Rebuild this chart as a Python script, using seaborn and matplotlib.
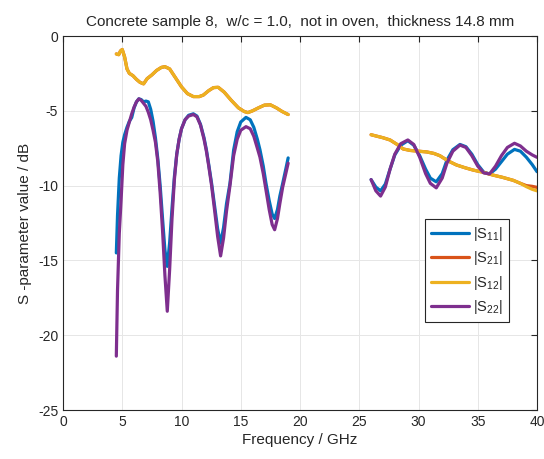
import matplotlib
matplotlib.use("Agg")
import matplotlib.pyplot as plt
import seaborn as sns
import pandas as pd

# ---------------- data ----------------
series_names = ["|S$_{11}$|", "|S$_{21}$|", "|S$_{12}$|", "|S$_{22}$|"]
colors = ["#0072BD", "#D95319", "#EDB120", "#7E2F8E"]

f_a = [4.5, 4.6, 4.75, 4.9, 5.05, 5.2, 5.4, 5.6, 5.8, 6.0, 6.2, 6.4, 6.6, 6.8,
       7.0, 7.2, 7.4, 7.6, 7.8, 8.0, 8.2, 8.4, 8.6, 8.8, 9.0, 9.2, 9.4, 9.6,
       9.8, 10.0, 10.3, 10.6, 11.0, 11.3, 11.6, 11.9, 12.1, 12.3, 12.54, 12.8,
       13.05, 13.3, 13.55, 13.8, 14.09, 14.4, 14.7, 15.0, 15.44, 15.8, 16.1,
       16.4, 16.62, 16.9, 17.13, 17.4, 17.65, 17.86, 18.1, 18.3, 18.54, 18.8, 19.0]
s11_a = [-14.5, -12.0, -9.5, -8.0, -7.1, -6.6, -6.1, -5.7, -5.45, -4.8, -4.4,
         -4.2, -4.25, -4.4, -4.35, -4.4, -4.9, -5.7, -6.8, -8.2, -10.0, -12.2,
         -14.3, -15.4, -13.8, -11.5, -9.4, -7.9, -6.9, -6.2, -5.6, -5.3, -5.2,
         -5.35, -5.9, -6.8, -7.6, -8.6, -9.85, -11.4, -12.9, -13.85, -12.8,
         -11.2, -9.85, -7.62, -6.4, -5.75, -5.44, -5.6, -6.1, -6.9, -7.6, -8.7,
         -9.85, -11.0, -11.9, -12.2, -11.6, -10.7, -9.85, -8.9, -8.15]
s22_a = [-21.4, -17.0, -13.2, -11.0, -8.6, -7.2, -6.3, -5.75, -5.2, -4.75, -4.4,
         -4.2, -4.3, -4.5, -4.7, -5.1, -5.6, -6.3, -7.1, -8.4, -10.5, -13.0,
         -16.0, -18.4, -15.6, -12.2, -9.6, -7.9, -6.9, -6.2, -5.6, -5.35, -5.25,
         -5.4, -5.95, -6.9, -7.7, -8.7, -10.0, -11.7, -13.4, -14.7, -13.5,
         -11.7, -10.0, -8.0, -6.9, -6.3, -6.06, -6.2, -6.7, -7.5, -8.1, -9.2,
         -10.3, -11.6, -12.6, -12.95, -12.2, -11.2, -10.1, -9.2, -8.5]

f12_a = [4.5, 4.7, 4.85, 5.0, 5.2, 5.4, 5.6, 5.9, 6.2, 6.5, 6.8, 7.1, 7.5, 7.9,
         8.3, 8.6, 9.0, 9.5, 10.0, 10.5, 11.0, 11.5, 11.84, 12.3, 12.7, 13.1,
         13.6, 14.2, 14.8, 15.3, 15.6, 16.0, 16.5, 17.0, 17.5, 18.0, 18.5, 19.0]
s12_a = [-1.2, -1.25, -1.0, -0.9, -1.4, -2.2, -2.5, -2.65, -2.9, -3.1, -3.2,
         -2.85, -2.6, -2.3, -2.1, -2.05, -2.2, -2.8, -3.4, -3.85, -4.05, -4.05,
         -3.95, -3.65, -3.45, -3.43, -3.75, -4.3, -4.8, -5.05, -5.12, -5.0,
         -4.8, -4.62, -4.6, -4.8, -5.05, -5.25]
s21_a = [-1.2, -1.25, -1.0, -0.9, -1.4, -2.2, -2.5, -2.65, -2.9, -3.1, -3.2,
         -2.85, -2.6, -2.3, -2.1, -2.05, -2.2, -2.8, -3.4, -3.85, -4.05, -4.05,
         -3.95, -3.65, -3.45, -3.43, -3.75, -4.3, -4.8, -5.05, -5.12, -5.0,
         -4.8, -4.62, -4.6, -4.8, -5.05, -5.25]

f_b = [26.0, 26.4, 26.8, 27.2, 27.6, 28.0, 28.5, 29.1, 29.6, 30.1, 30.6, 31.0,
       31.5, 32.0, 32.4, 32.9, 33.5, 34.0, 34.5, 35.0, 35.5, 36.0, 36.5, 37.0,
       37.5, 38.1, 38.6, 39.1, 39.6, 40.0]
s11_b = [-9.6, -10.1, -10.35, -9.9, -8.9, -7.95, -7.3, -7.0, -7.3, -8.0, -8.9,
         -9.5, -9.75, -9.2, -8.3, -7.6, -7.25, -7.4, -7.9, -8.6, -9.1, -9.22,
         -8.9, -8.4, -7.9, -7.58, -7.7, -8.1, -8.6, -9.07]
s22_b = [-9.6, -10.35, -10.7, -10.1, -8.9, -7.9, -7.2, -6.95, -7.25, -8.1, -9.2,
         -9.85, -10.15, -9.5, -8.5, -7.7, -7.29, -7.45, -8.0, -8.7, -9.15, -9.22,
         -8.7, -8.0, -7.45, -7.17, -7.35, -7.7, -7.95, -8.11]

f12_b = [26.0, 26.5, 27.0, 27.6, 28.2, 28.7, 29.3, 30.0, 30.7, 31.3, 31.8, 32.5,
         33.2, 33.9, 34.6, 35.4, 36.3, 37.1, 38.0, 38.6, 39.1, 39.6, 40.0]
s12_b = [-6.6, -6.7, -6.8, -6.95, -7.25, -7.55, -7.65, -7.7, -7.75, -7.85, -8.0,
         -8.35, -8.62, -8.8, -8.96, -9.1, -9.3, -9.45, -9.65, -9.85, -10.07,
         -10.25, -10.35]
s21_b = [-6.6, -6.7, -6.8, -6.95, -7.25, -7.55, -7.65, -7.7, -7.75, -7.85, -8.0,
         -8.35, -8.62, -8.8, -8.96, -9.1, -9.3, -9.45, -9.65, -9.85, -10.0,
         -10.05, -10.12]

x_ticks = [0, 5, 10, 15, 20, 25, 30, 35, 40]
y_ticks = [-25, -20, -15, -10, -5, 0]

# ---------------- build long table ----------------
rows = []
def add(name, seg, fs, vs):
    for f, v in zip(fs, vs):
        rows.append({"freq": f, "val": v, "series": name, "seg": seg})

add(series_names[0], "a", f_a, s11_a)
add(series_names[0], "b", f_b, s11_b)
add(series_names[1], "a", f12_a, s21_a)
add(series_names[1], "b", f12_b, s21_b)
add(series_names[2], "a", f12_a, s12_a)
add(series_names[2], "b", f12_b, s12_b)
add(series_names[3], "a", f_a, s22_a)
add(series_names[3], "b", f_b, s22_b)
df = pd.DataFrame(rows)

# ---------------- plot ----------------
sns.set_style("white")
plt.rcParams["font.family"] = ["Liberation Sans", "DejaVu Sans"]
plt.rcParams["mathtext.fontset"] = "custom"
plt.rcParams["mathtext.rm"] = "Liberation Sans"
plt.rcParams["mathtext.it"] = "Liberation Sans"
plt.rcParams["axes.unicode_minus"] = False

fig = plt.figure(figsize=(5.44, 4.59), dpi=100)
ax = fig.add_axes([63 / 544, 1 - 410 / 459, 474 / 544, 374 / 459])

sns.lineplot(data=df, x="freq", y="val", hue="series", units="seg",
             estimator=None, sort=False, hue_order=series_names,
             palette=colors, linewidth=2.3, ax=ax)

ax.set_xlim(0, 40)
ax.set_ylim(-25, 0)
ax.set_xticks(x_ticks)
ax.set_yticks(y_ticks)
ax.grid(True, color="#e6e6e6", linewidth=0.7)
ax.set_axisbelow(True)
for sp in ax.spines.values():
    sp.set_visible(True)
    sp.set_color("#262626")
    sp.set_linewidth(0.8)
ax.tick_params(direction="in", top=True, right=True, length=4,
               labelsize=10, colors="#262626", width=0.8)

ax.set_xlabel("Frequency / GHz", fontsize=11, color="#262626", labelpad=3)
ax.set_ylabel("S -parameter value / dB", fontsize=11, color="#262626", labelpad=4)
ax.set_title("Concrete sample 8,  w/c = 1.0,  not in oven,  thickness 14.8 mm",
             fontsize=11, color="#262626", pad=7)

leg = ax.legend(loc="upper right", bbox_to_anchor=(0.941, 0.511),
                borderaxespad=0, fontsize=10.5, frameon=True, fancybox=False,
                framealpha=1, edgecolor="#262626", handlelength=2.6,
                borderpad=0.4, labelspacing=0.45, handletextpad=0.3)
leg.get_frame().set_linewidth(0.8)

fig.savefig("out.png", dpi=100)
